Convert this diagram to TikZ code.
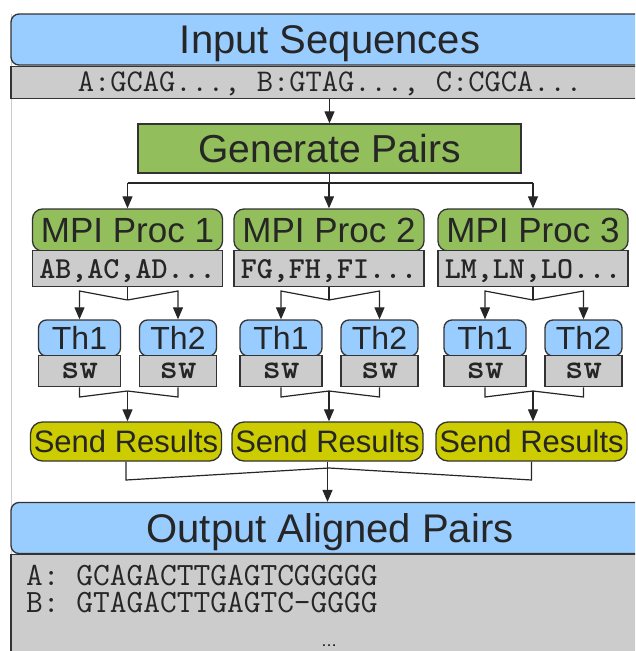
\documentclass[tikz,border=0pt]{standalone}
\usepackage{fontspec}
\setmainfont{Liberation Sans}
\usepackage{tikz}
\usetikzlibrary{positioning, calc}
\usetikzlibrary{arrows.meta}
\definecolor{headblue}{RGB}{153,204,255}
\definecolor{listgray}{RGB}{204,204,204}
\definecolor{procgreen}{RGB}{147,190,92}
\definecolor{sendyellow}{RGB}{204,204,0}
\definecolor{edgegray}{RGB}{51,51,51}
\tikzstyle{boxbase}=[draw=edgegray, line width=1.3pt, inner sep=0pt, text=black!85, text depth=0pt]
\tikzstyle{headbox}=[boxbase, fill=headblue, rounded corners=8pt, minimum width=638pt, minimum height=51pt, text height=28.6pt, font=\fontsize{40}{48}\selectfont]
\tikzstyle{seqbox}=[boxbase, fill=listgray, minimum width=638pt, minimum height=32pt, text height=19.3pt, font=\ttfamily\fontsize{31.6}{36}\selectfont]
\tikzstyle{genbox}=[boxbase, fill=procgreen, minimum width=383pt, minimum height=49pt, text height=28pt, font=\fontsize{39}{47}\selectfont]
\tikzstyle{procbox}=[boxbase, fill=procgreen, rounded corners=10pt, minimum width=190pt, minimum height=42pt, text height=25pt, font=\fontsize{35}{42}\selectfont]
\tikzstyle{listbox}=[boxbase, fill=listgray, minimum width=190pt, minimum height=36pt, text height=18.6pt, font=\ttfamily\bfseries\fontsize{30.5}{36}\selectfont]
\tikzstyle{thbox}=[boxbase, fill=headblue, rounded corners=8pt, minimum height=36pt, text height=23pt, font=\fontsize{32}{38}\selectfont]
\tikzstyle{swbox}=[boxbase, fill=listgray, minimum height=31pt, text height=15pt, font=\ttfamily\bfseries\fontsize{35}{40}\selectfont]
\tikzstyle{sendbox}=[boxbase, fill=sendyellow, rounded corners=12pt, minimum width=191pt, minimum height=39pt, text height=22pt, font=\fontsize{31}{37}\selectfont]
\tikzstyle{seqline}=[inner sep=0pt, text=black!85, text height=19.8pt, text depth=0pt, font=\ttfamily\fontsize{32.5}{36}\selectfont]
\tikzstyle{link}=[draw=black!85, line width=1.2pt]
\tikzstyle{flow}=[link, -{Triangle[length=12pt,width=10pt]}]

\begin{document}
\begin{tikzpicture}[x=1pt, y=-1pt]
        \clip (0,0) rectangle (635,651);
        \useasboundingbox (0,0) rectangle (635,651);
        \draw[black!20, line width=1pt] (11,14) -- (11,651);

        \node[headbox] (inp) at (330,39.5) {Input Sequences};
        \node[seqbox, below=0pt of inp] (inseq) {A:GCAG..., B:GTAG..., C:CGCA...};
        \node[genbox] (gen) at (329.5,148.5) {Generate Pairs};

        \node[headbox] (out) at (330,528) {Output Aligned Pairs};
        \node[seqbox, minimum height=100pt, below=0pt of out] (res) {};
        \node[seqline, anchor=west] (la) at (26,576) {A: GCAGACTTGAGTCGGGGG};
        \node[seqline, anchor=west] (lb) at (26,603) {B: GTAGACTTGAGTC-GGGG};
        \node[inner sep=0pt, anchor=base, font=\fontsize{16}{16}\selectfont] (dots) at (329,646) {…};

        \coordinate (dist) at (0,183);
        \coordinate (hiA) at (0,291);
        \coordinate (loA) at (0,397);
        \coordinate (loB) at (0,480);
        \coordinate (gat) at (329,468);

        \foreach \i/\c/\lst in {1/127.5/{AB,AC,AD...}, 2/329/{FG,FH,FI...}, 3/533/{LM,LN,LO...}}{
            \node[procbox] (p\i) at (\c,230) {MPI Proc \i};
            \node[listbox, below=-1.5pt of p\i] (l\i) {\lst};
            \node[thbox, minimum width=82pt] (ta\i) at (\c-48,338) {Th1};
            \node[thbox, minimum width=77pt] (tb\i) at (\c+50.5,338) {Th2};
            \node[swbox, minimum width=82pt, below=-1.5pt of ta\i] (sa\i) {sw};
            \node[swbox, minimum width=77pt, below=-1.5pt of tb\i] (sb\i) {sw};
            \node[sendbox] (sr\i) at (\c-1.5,441.5) {Send Results};
            % fork to the threads, join back
            \coordinate (fk\i) at (\c,300);
            \coordinate (jn\i) at (\c,391);
            \draw[link] (l\i.south) -- (fk\i);
            \draw[flow] (fk\i) -- (ta\i.north |- hiA) -- (ta\i.north);
            \draw[flow] (fk\i) -- (tb\i.north |- hiA) -- (tb\i.north);
            \draw[link] (sa\i.south) -- (sa\i.south |- loA) -- (jn\i);
            \draw[link] (sb\i.south) -- (sb\i.south |- loA) -- (jn\i);
            \draw[flow] (jn\i) -- (jn\i |- sr\i.north);
        }

        \draw[flow] (gen.north |- inseq.south) -- (gen.north);
        \draw[link] (gen.south) -- (gen.south |- dist);
        \draw[link] (p1.north |- dist) -- (p3.north |- dist);
        \foreach \i in {1,2,3}
            \draw[flow] (p\i.north |- dist) -- (p\i.north);

        \draw[link] (sr1.south) -- (sr1.south |- loB) -- (gat);
        \draw[link] (sr3.south) -- (sr3.south |- loB) -- (gat);
        \draw[flow] (sr2.south) -- (sr2.south |- out.north);
    \end{tikzpicture}
\end{document}
